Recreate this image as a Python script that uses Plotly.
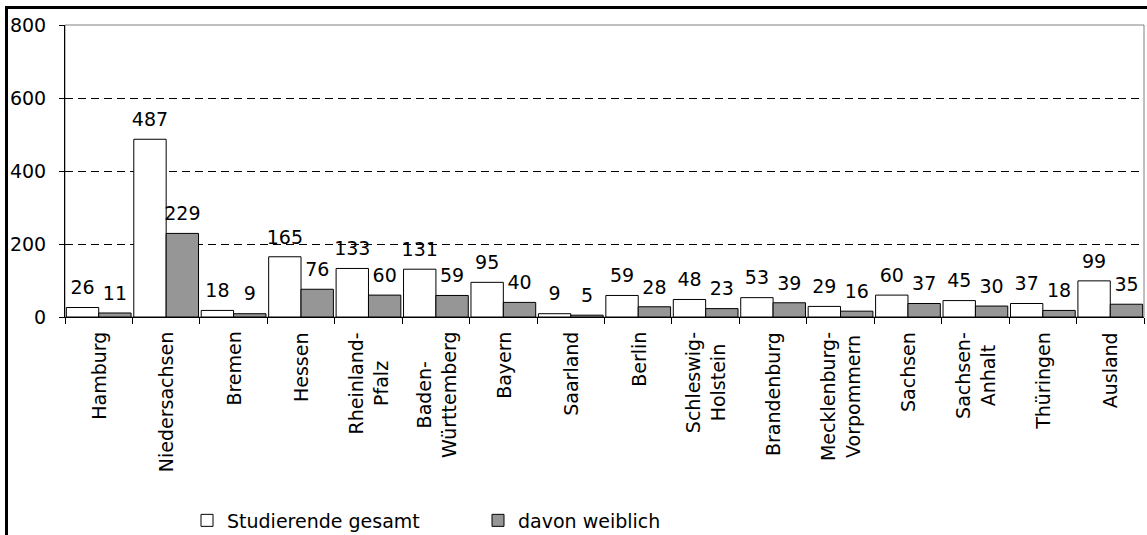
import plotly.graph_objects as go

# Studierende nach Herkunftsland (Bundesland) – gesamt und davon weiblich
regions = [
    "Hamburg", "Niedersachsen", "Bremen", "Hessen", "Rheinland-<br>Pfalz",
    "Baden-<br>Württemberg", "Bayern", "Saarland", "Berlin", "Schleswig-<br>Holstein",
    "Brandenburg", "Mecklenburg-<br>Vorpommern", "Sachsen", "Sachsen-<br>Anhalt",
    "Thüringen", "Ausland",
]
students_total = [26, 487, 18, 165, 133, 131, 95, 9, 59, 48, 53, 29, 60, 45, 37, 99]
students_female = [11, 229, 9, 76, 60, 59, 40, 5, 28, 23, 39, 16, 37, 30, 18, 35]
y_ticks = [0, 200, 400, 600, 800]

FONT = "DejaVu Sans"
FS = 19
W, H = 1147, 535
ML, MR, MT, MB = 65, 3, 25, 218
PW, PH = W - ML - MR, H - MT - MB

GRAY = "#969696"

fig = go.Figure()
fig.add_bar(
    x=regions, y=students_total, name="Studierende gesamt",
    marker=dict(color="white", line=dict(color="black", width=1)),
    hoverinfo="skip",
)
fig.add_bar(
    x=regions, y=students_female, name="davon weiblich",
    marker=dict(color=GRAY, line=dict(color="black", width=1)),
    hoverinfo="skip",
)

# value labels above each bar, grouped like the bars
for vals in (students_total, students_female):
    fig.add_scatter(
        x=regions, y=vals, mode="markers+text",
        text=[str(v) for v in vals], textposition="top center",
        textfont=dict(family=FONT, size=FS, color="black"),
        marker=dict(size=12, opacity=0),
        showlegend=False, hoverinfo="skip", cliponaxis=False,
    )

# category labels below the axis, lines centred
for r in regions:
    fig.add_annotation(
        x=r, y=0, xref="x", yref="y", text=r, textangle=-90,
        showarrow=False, yanchor="top", xanchor="center", align="center",
        yshift=-13, font=dict(family=FONT, size=FS, color="black"),
    )

# plot-area border (grey) and outer chart frame
fig.add_shape(type="rect", xref="paper", yref="paper", x0=0, x1=1, y0=0, y1=1,
              line=dict(color="#808080", width=1), layer="below")
fig.add_shape(type="rect", xref="paper", yref="paper",
              x0=(6.5 - ML) / PW, x1=(W + 10 - ML) / PW,
              y0=(MT + PH - (H + 10)) / PH, y1=(MT + PH - 7.5) / PH,
              line=dict(color="black", width=3))

fig.update_layout(
    width=W, height=H,
    margin=dict(l=ML, r=MR, t=MT, b=MB, autoexpand=False),
    paper_bgcolor="white", plot_bgcolor="white",
    barmode="group", bargap=0.04, bargroupgap=0,
    scattermode="group", scattergap=0.04,
    font=dict(family=FONT, size=FS, color="black"),
    showlegend=True,
    legend=dict(
        orientation="h", x=(187 - ML) / PW, xanchor="left",
        y=(MT + PH - 520.5) / PH, yanchor="middle",
        entrywidth=246, entrywidthmode="pixels",
        font=dict(family=FONT, size=FS, color="black"),
        bgcolor="rgba(0,0,0,0)", itemclick=False, itemdoubleclick=False,
    ),
    xaxis=dict(
        showticklabels=False, tickson="boundaries", ticks="outside",
        ticklen=6, tickcolor="black", showline=True, linecolor="black",
        linewidth=1, showgrid=False, zeroline=False, fixedrange=True,
    ),
    yaxis=dict(
        range=[0, 800], tickvals=y_ticks, ticks="outside", ticklen=5,
        tickcolor="black", showline=True, linecolor="black", linewidth=1,
        showgrid=True, gridcolor="black", gridwidth=1, griddash="8px,5px",
        zeroline=False, ticklabelstandoff=9,
        tickfont=dict(family=FONT, size=FS, color="black"), fixedrange=True,
    ),
)

fig.write_html("out.html")
